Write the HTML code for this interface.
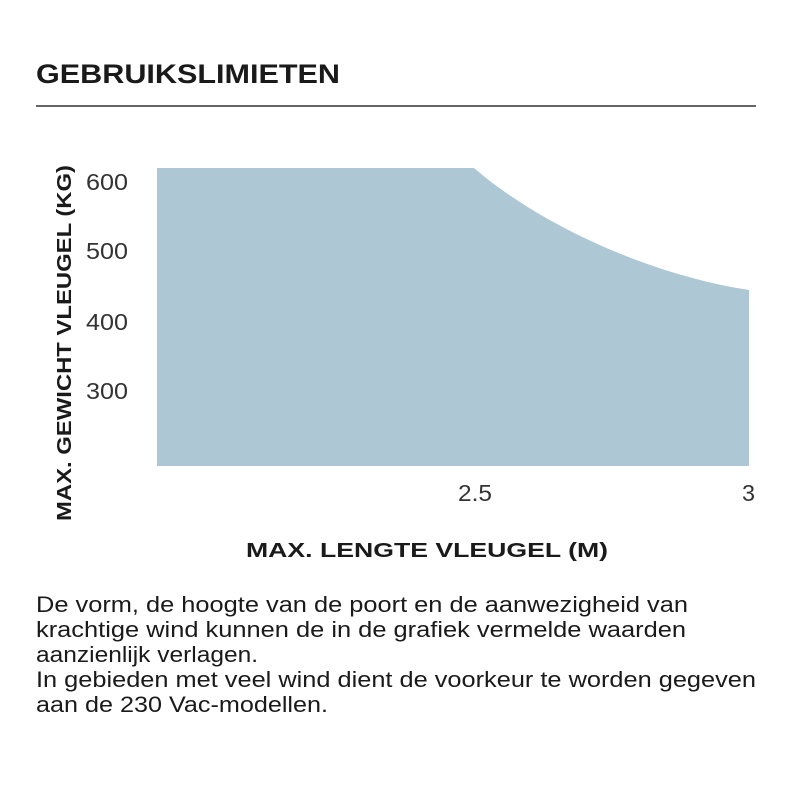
<!DOCTYPE html>
<html><head><meta charset="utf-8"><style>html,body{margin:0;padding:0;background:#fff}svg{display:block}</style></head>
<body>
<svg width="800" height="800" viewBox="0 0 800 800" xmlns="http://www.w3.org/2000/svg" font-family="Liberation Sans, sans-serif">
<rect width="800" height="800" fill="#fff"/>
<text x="36" y="83" font-size="27" font-weight="bold" fill="#1a1a1a" textLength="304" lengthAdjust="spacingAndGlyphs">GEBRUIKSLIMIETEN</text>
<line x1="36" y1="106" x2="756" y2="106" stroke="#333" stroke-width="1.5"/>
<path d="M157,168 L474,168 C540,225 650,275 749,290 L749,466 L157,466 Z" fill="#adc8d4"/>
<g font-size="23" fill="#333" text-anchor="start">
<text x="86" y="190" textLength="42" lengthAdjust="spacingAndGlyphs">600</text>
<text x="86" y="259" textLength="42" lengthAdjust="spacingAndGlyphs">500</text>
<text x="86" y="330" textLength="42" lengthAdjust="spacingAndGlyphs">400</text>
<text x="86" y="399" textLength="42" lengthAdjust="spacingAndGlyphs">300</text>
<text x="458" y="501" textLength="34" lengthAdjust="spacingAndGlyphs">2.5</text>
<text x="742" y="501" textLength="13" lengthAdjust="spacingAndGlyphs">3</text>
</g>
<text transform="translate(71,343) rotate(-90)" text-anchor="middle" font-size="20" font-weight="bold" fill="#1a1a1a" textLength="356" lengthAdjust="spacingAndGlyphs">MAX. GEWICHT VLEUGEL (KG)</text>
<text x="427" y="557" text-anchor="middle" font-size="20" font-weight="bold" fill="#1a1a1a" textLength="362" lengthAdjust="spacingAndGlyphs">MAX. LENGTE VLEUGEL (M)</text>
<g font-size="22" fill="#1a1a1a">
<text x="36" y="612" textLength="652" lengthAdjust="spacingAndGlyphs">De vorm, de hoogte van de poort en de aanwezigheid van</text>
<text x="36" y="637" textLength="650" lengthAdjust="spacingAndGlyphs">krachtige wind kunnen de in de grafiek vermelde waarden</text>
<text x="36" y="662" textLength="222" lengthAdjust="spacingAndGlyphs">aanzienlijk verlagen.</text>
<text x="36" y="687" textLength="720" lengthAdjust="spacingAndGlyphs">In gebieden met veel wind dient de voorkeur te worden gegeven</text>
<text x="36" y="712" textLength="292" lengthAdjust="spacingAndGlyphs">aan de 230 Vac-modellen.</text>
</g>
</svg>
</body></html>
